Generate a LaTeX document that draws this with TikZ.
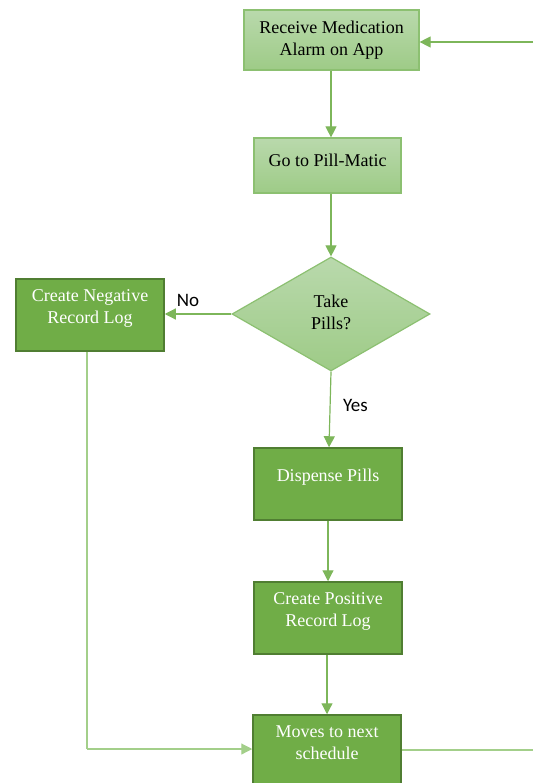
\documentclass[tikz,border=0pt]{standalone}
\usepackage{fontspec}
\setmainfont{Liberation Serif}
\newfontfamily\labfont{Carlito}
\usetikzlibrary{arrows.meta,shapes.geometric}
\definecolor{gA}{HTML}{70AD47}
\definecolor{gBorder}{HTML}{507E32}
\definecolor{gTop}{HTML}{B9D9AC}
\definecolor{gBot}{HTML}{9ECB87}
\definecolor{gLine}{HTML}{7DB65A}
\definecolor{gLight}{HTML}{A3CF8A}
\definecolor{gLB}{HTML}{8CC071}
\tikzset{
  lightbox/.style={rectangle, draw=gLB, line width=1.2pt, top color=gTop, bottom color=gBot,
    align=center, font=\fontsize{18}{22}\selectfont, text=black, inner sep=0pt},
  darkbox/.style={rectangle, draw=gBorder, line width=1.5pt, fill=gA, inner sep=0pt},
  decision/.style={diamond, draw=gLB, line width=1.2pt, top color=gTop, bottom color=gBot, inner sep=0pt,
    aspect=1.74},
  flow/.style={draw=gLine, line width=1.2pt, -{Triangle[length=11pt,width=11pt]}},
  plain/.style={draw=gLight, line width=1.2pt},
  lab/.style={font=\labfont\fontsize{19}{21}\selectfont, text=black},
  wtxt/.style={font=\fontsize{18}{22}\selectfont, text=white, align=center},
  btxt/.style={font=\fontsize{18}{22}\selectfont, text=black, align=center}
}
\begin{document}
\begin{tikzpicture}[x=1pt,y=-1pt]
\useasboundingbox (0,0) rectangle (533,783);
% nodes
\node[lightbox, minimum width=175, minimum height=60] (alarm) at (331.5,40) {Receive Medication\\Alarm on App};
\node[lightbox, minimum width=147, minimum height=55, label={[btxt,yshift=5pt]center:Go to Pill-Matic}] (go) at (327.5,165.5) {};
\node[decision, minimum width=198, minimum height=114, label={[btxt,yshift=2pt]center:Take\\Pills?}] (dec) at (331,314) {};
\node[darkbox, minimum width=148, minimum height=72, label={[wtxt,yshift=7pt]center:Create Negative\\Record Log}] (neg) at (90,315) {};
\node[darkbox, minimum width=148, minimum height=72, label={[wtxt,yshift=7pt]center:Dispense Pills}] (disp) at (328,484) {};
\node[darkbox, minimum width=148, minimum height=72, label={[wtxt,yshift=7pt]center:Create Positive\\Record Log}] (pos) at (328,618) {};
\node[darkbox, minimum width=148, minimum height=72, label={[wtxt,yshift=8pt]center:Moves to next\\schedule}] (next) at (327,751) {};
% free ends
\coordinate (inR) at (533,42);
\coordinate (outR) at (533,750);
\coordinate (corner) at (87,749);
% connectors
\draw[flow] (inR) -- (inR -| alarm.east);
\draw[flow] (alarm.south -| 331,0) -- (go.north -| 331,0);
\draw[flow] (go.south -| 331,0) -- (dec.north);
\draw[flow] (dec.west) -- (dec.west -| neg.east) node[lab, pos=0.65, above=3pt] {No};
\draw[flow] (dec.south) -- (disp.north -| 329,0) node[lab, pos=0.45, right=9pt] {Yes};
\draw[flow] (disp.south -| 328,0) -- (pos.north -| 328,0);
\draw[flow] (pos.south -| 327,0) -- (next.north -| 327,0);
\draw[plain] (neg.south -| corner) -- (corner);
\draw[flow, draw=gLight] (corner) -- (corner -| next.west);
\draw[plain] (next.east |- outR) -- (outR);
\end{tikzpicture}
\end{document}
